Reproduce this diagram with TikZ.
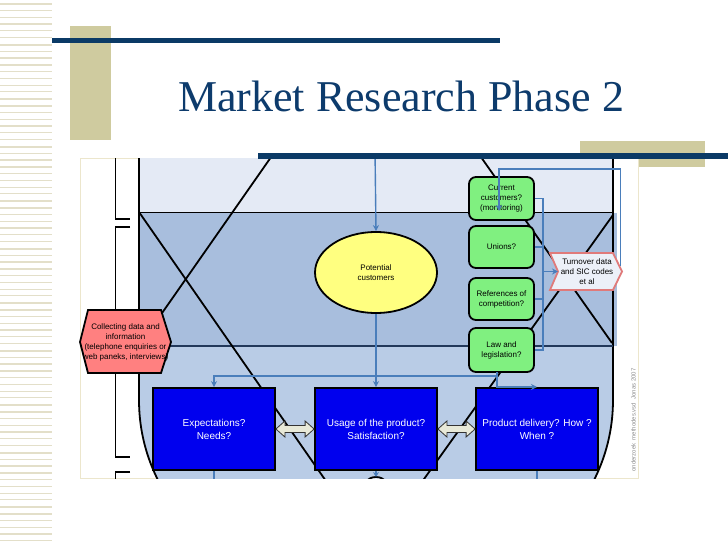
\documentclass[tikz,border=0pt]{standalone}
\usepackage{fontspec}
\setmainfont{Liberation Serif}
\newfontfamily\arialf{Liberation Sans}
\usetikzlibrary{arrows.meta,calc,shapes.geometric}
\definecolor{navy}{HTML}{0B3A66}
\definecolor{titlec}{HTML}{0D3B6C}
\definecolor{beige}{HTML}{CFCB9F}
\definecolor{stripe}{HTML}{E3DFC9}
\definecolor{bandA}{HTML}{E4EAF5}
\definecolor{bandB}{HTML}{A8BEDD}
\definecolor{bandC}{HTML}{B9CCE6}
\definecolor{connc}{HTML}{4A7EBB}
\definecolor{boxblue}{HTML}{0000EE}
\definecolor{grn}{HTML}{80F080}
\definecolor{yel}{HTML}{FFFF80}
\definecolor{salmon}{HTML}{FF8080}
\definecolor{pinkline}{HTML}{E07A7A}
\definecolor{arrfill}{HTML}{E8E9D8}
\definecolor{framec}{HTML}{ECE6CC}
\definecolor{midline}{HTML}{22385A}
\newcommand{\mydbl}[2]{\path[draw=black!80, line width=0.8pt, fill=arrfill] let \p1=(#1), \p2=(#2) in (\x1,\y1) -- (\x1+9pt,\y1+8pt) -- (\x1+9pt,\y1+3.5pt) -- (\x2-9pt,\y1+3.5pt) -- (\x2-9pt,\y1+8pt) -- (\x2,\y1) -- (\x2-9pt,\y1-8pt) -- (\x2-9pt,\y1-3.5pt) -- (\x1+9pt,\y1-3.5pt) -- (\x1+9pt,\y1-8pt) -- cycle;}
\begin{document}
\begin{tikzpicture}[x=1pt,y=-1pt,
  conn/.style={draw=connc, line width=1.4pt},
  tip/.style={-{Stealth[length=6pt,width=6pt]}},
  blk/.style={draw=black, line width=1.8pt},
  bluebox/.style={draw=black, line width=1.8pt, fill=boxblue, minimum width=122pt, minimum height=82pt, text=white, font=\arialf\fontsize{10}{13}\selectfont, align=center, inner sep=0pt},
  greenbox/.style={draw=black, line width=1.8pt, fill=grn, rounded corners=7pt, minimum width=65pt, minimum height=42pt, font=\arialf\fontsize{8}{10}\selectfont, align=center, inner sep=0pt},
  smalltxt/.style={font=\arialf\fontsize{8}{10}\selectfont, align=center, inner sep=0pt}]
\useasboundingbox (0,0) rectangle (728,546);
\fill[white] (0,0) rectangle (728,546);
% left stripes
\foreach \i in {0,...,79}{
  \pgfmathsetmacro{\yy}{3+\i*6.8}
  \pgfmathsetmacro{\ww}{mod(\i,3)==0 ? 1.8 : (mod(\i,3)==1 ? 1.0 : 1.4)}
  \fill[stripe] (0,\yy) rectangle (52,\yy+\ww);
}
% decorative slide shapes
\fill[beige] (70,26) rectangle (111,140);
\fill[navy] (52,37.5) rectangle (500,43);
\node[anchor=base, text=titlec, font=\fontsize{44}{50}\selectfont, inner sep=0pt] (title) at (401,111) {Market Research Phase 2};
\fill[beige] (580,141) rectangle (705,167);
% diagram image
\fill[white] (80,158) rectangle (638,478);
\draw[framec, line width=1pt] (80,158) rectangle (638,478);
\begin{scope}
\clip (79,158) rectangle (639,478);
\path[fill=bandC, rounded corners=178pt] (139,150) -- (139,578) -- (613,578) -- (613,150);
\fill[bandA] (139,158) rectangle (613,212);
\fill[bandB] (139,213) rectangle (617,346);
\draw[blk, rounded corners=178pt] (139,150) -- (139,578) -- (613,578) -- (613,150);
\draw[blk] (139,212.5) -- (613,212.5);
\draw[midline, line width=1.6pt] (139,346) -- (613,346);
% left brackets
\draw[black, line width=1.5pt] (115.5,150) -- (115.5,219) -- (130,219);
\draw[black, line width=1.5pt] (130,227) -- (115.5,227) -- (115.5,457) -- (130,457);
\draw[black, line width=1.5pt] (130,472) -- (115.5,472) -- (115.5,490);
% diagonal lines
\draw[blk] (139,212) -- (360,530);
\draw[blk] (139,346) -- (276,150);
\draw[blk] (476,150) -- (612,343);
\draw[blk] (613,215) -- (409,500);
% bottom ellipse fragment
\draw[blk, fill=bandA] (376,491) circle (14);
% nodes
\node[draw=black, line width=1.8pt, fill=yel, ellipse, minimum width=122pt, minimum height=81pt, inner sep=0pt, font=\arialf\fontsize{8}{10}\selectfont, align=center] (pc) at (376,272.5) {Potential\\customers};
\node[bluebox] (exp) at (214,429) {Expectations?\\Needs?};
\node[bluebox] (usage) at (376,429) {Usage of the product?\\Satisfaction?};
\node[bluebox] (deliv) at (537,429) {Product delivery? How ?\\When ?};
\mydbl{exp.east}{usage.west}
\mydbl{usage.east}{deliv.west}
\node[greenbox, minimum height=43pt] (cc) at (501.5,198.5) {Current\\customers?\\(monitoring)};
\node[greenbox] (un) at (501.5,247) {Unions?};
\node[greenbox] (ref) at (501.5,299) {References of\\competition?};
\node[greenbox, minimum height=44pt] (law) at (501.5,350) {Law and\\legislation?};
% hexagon
\draw[blk, fill=salmon] (80,342) -- (88,310) -- (161,310) -- (171,342) -- (161,373) -- (88,373) -- cycle;
\node[smalltxt] (coll) at (125.5,342.5) {Collecting data and\\information\\(telephone enquiries or\\web paneks, interviews)};
% turnover shape
\draw[draw=pinkline, line width=1.8pt, fill=bandA!70!white] (550,253) -- (613,253) -- (622,271.5) -- (613,290) -- (550,290) -- (558,271.5) -- cycle;
\node[smalltxt] (turn) at (587,271.5) {Turnover data\\and SIC codes\\et al};
\coordinate (turnW) at (558,271.5);
\coordinate (turnTip) at (620.5,266);
% connectors
\coordinate (src) at (375,150);
\coordinate (j1) at (375,376);
\coordinate (lawdrop) at (497,376);
\coordinate (lawb) at (497,372);
\coordinate (bus) at (543,0);
\coordinate (ccin) at (499,211);
\draw[conn, tip] (src) -- (pc.north);
\draw[conn, tip] (pc.south) -- (usage.north);
\draw[conn, tip] (j1) -| (exp.north);
\draw[conn] (j1) -- (lawdrop);
\draw[conn, tip] (lawb) -- (497,387) -- (deliv.north |- 0,387);
\draw[conn] (cc.east) -- (cc.east -| bus) -- (law.east -| bus) -- (law.east);
\draw[conn] (un.east) -- (un.east -| bus);
\draw[conn] (ref.east) -- (ref.east -| bus);
\draw[conn, tip] (turnW -| bus) -- (turnW);
\draw[conn, tip] (turnTip) -- (620.5,169) -- (499,169) -- (ccin);
\draw[conn, -{Stealth[length=5pt,width=6pt]}] (usage.south) -- (376,477);
\draw[conn] (exp.south) -- (214,480);
\draw[conn] (deliv.south) -- (537,480);
% credit
\node[rotate=90, font=\arialf\fontsize{6}{7}\selectfont, text=black!45, inner sep=0pt] (credit) at (633.5,420) {onderzoek \ methodes.vsd \ Jonas 2007};
\end{scope}
\fill[navy] (258,152.5) rectangle (728,158.5);
\end{tikzpicture}
\end{document}
